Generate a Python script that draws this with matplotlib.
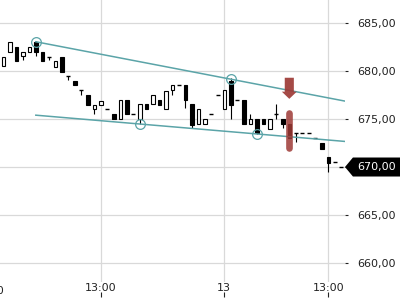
import matplotlib
matplotlib.use("Agg")
import matplotlib.pyplot as plt
from matplotlib.patches import Polygon
import matplotlib.transforms as mtransforms

# ---- data ----
opens  = [680.5, 682.0, 682.5, 681.6, 682.0, 683.0, 682.0, 681.5, 680.45, 681.5,
          679.5, 679.0, 678.0, 677.5, 676.0, 676.5, 676.0, 675.5, 675.0, 677.0,
          675.5, 675.0, 676.55, 676.55, 677.0, 676.0, 678.0, 678.5, 678.5, 676.55,
          674.45, 674.45, 675.5, 677.5, 676.0, 679.0, 677.0, 677.0, 674.45, 675.0,
          675.0, 674.0, 675.5, 675.0, 674.45, 673.5, 673.5, 673.5, 673.0, 672.45,
          671.0, 670.5, 670.0]
highs  = [681.5, 683.0, 682.5, 682.0, 682.5, 683.1, 682.0, 681.5, 681.0, 681.5,
          679.5, 679.0, 678.0, 677.5, 676.5, 676.9, 676.0, 675.5, 677.0, 677.0,
          675.5, 676.55, 676.55, 677.5, 677.0, 677.95, 678.5, 678.5, 678.5, 676.55,
          676.0, 675.0, 675.5, 677.5, 678.0, 679.3, 677.0, 677.0, 675.5, 675.0,
          675.0, 675.0, 676.55, 675.0, 674.45, 673.5, 673.5, 673.5, 673.0, 672.45,
          671.0, 670.5, 670.0]
lows   = [680.5, 682.0, 681.0, 681.1, 682.0, 681.6, 681.0, 681.15, 680.45, 679.9,
          679.05, 678.5, 677.5, 676.45, 675.5, 676.5, 676.0, 675.0, 675.0, 675.5,
          675.5, 674.5, 676.0, 676.55, 676.5, 676.0, 677.5, 678.5, 676.1, 674.1,
          674.45, 674.45, 675.5, 677.5, 676.0, 675.0, 677.0, 674.45, 674.45, 673.45,
          674.45, 674.0, 675.0, 674.1, 673.0, 672.6, 673.5, 673.5, 673.0, 671.9,
          669.5, 670.5, 670.0]
closes = [681.5, 683.0, 681.0, 682.0, 682.5, 682.0, 681.0, 681.5, 681.0, 679.9,
          679.5, 678.5, 678.0, 676.45, 676.5, 676.9, 676.0, 675.0, 677.0, 675.5,
          675.5, 676.55, 676.0, 677.5, 676.5, 677.95, 678.5, 678.5, 677.0, 674.4,
          676.0, 675.0, 675.5, 677.5, 678.0, 676.5, 677.0, 674.45, 675.0, 673.5,
          674.45, 675.0, 675.5, 674.45, 673.0, 673.5, 673.5, 673.5, 673.0, 671.9,
          670.45, 670.5, 670.0]

x_tick_pos = [15, 34, 50]
x_tick_labels = ["13:00", "13", "13:00"]
x_hidden_label_pos = -2.2
x_hidden_label = "12:00"

y_ticks = [660, 665, 670, 675, 680, 685]
y_tick_labels = ["660,00", "665,00", "670,00", "675,00", "680,00", "685,00"]

upper_line_x = [5, 53]
upper_line_y = [683.05, 676.81]
lower_line_x = [5, 53]
lower_line_y = [675.4, 672.64]
circle_x = [5, 35, 21, 39]
circle_y = [683.05, 679.15, 674.5, 673.45]

signal_x = 44
arrow_top = 679.3
arrow_tip = 677.1
capsule_top = 675.6
capsule_bottom = 672.0

last_price = 670.0
last_label = "670,00"

# ---- figure ----
fig = plt.figure(figsize=(4, 3), dpi=100)
ax = fig.add_axes([0, 0.06, 345 / 400, 0.94])

xlim = (-0.51, 52.57)
ax.set_xlim(*xlim)
ax.set_ylim(658.02, 687.4)

grid_c = "#d9d9d9"
for v in y_ticks:
    ax.axhline(v, color=grid_c, lw=0.9, zorder=0)
for v in x_tick_pos:
    ax.axvline(v, color=grid_c, lw=0.9, zorder=0)

for s in ax.spines.values():
    s.set_visible(False)

# candles
idx = list(range(len(opens)))
bw = 0.55
for i in idx:
    o, h, l, c = opens[i], highs[i], lows[i], closes[i]
    lo_b, hi_b = min(o, c), max(o, c)
    if h > hi_b:
        ax.vlines(i, hi_b, h, color="black", lw=0.8, zorder=2)
    if l < lo_b:
        ax.vlines(i, l, lo_b, color="black", lw=0.8, zorder=2)
    if hi_b - lo_b < 0.05:
        ax.hlines(o, i - bw / 2 - 0.05, i + bw / 2 + 0.05, color="black", lw=1.0, zorder=3)
    else:
        up = c > o
        ax.bar(i, hi_b - lo_b, bottom=lo_b, width=bw,
               color="white" if up else "black", edgecolor="black",
               linewidth=0.8, zorder=3)

# trend lines
teal = "#5ba4a8"
ax.plot(upper_line_x, upper_line_y, color=teal, lw=1.1, zorder=4)
ax.plot(lower_line_x, lower_line_y, color=teal, lw=1.1, zorder=4)
ax.plot(circle_x, circle_y, linestyle="none", marker="o", ms=7,
        mfc="none", mec=teal, mew=0.9, zorder=5)

# red signals
red = "#9e3a36"
ax.arrow(signal_x, arrow_top, 0, arrow_tip - arrow_top, width=1.4,
         head_width=2.3, head_length=0.75, length_includes_head=True,
         color=red, alpha=0.92, lw=0, zorder=6)
ax.plot([signal_x, signal_x], [capsule_top, capsule_bottom], color=red,
        lw=4.8, solid_capstyle="round", alpha=0.85, zorder=6)

# y axis on right
ax.yaxis.tick_right()
ax.set_yticks(y_ticks)
ax.set_yticklabels(y_tick_labels)
ax.tick_params(axis="y", length=2.5, width=0.8, pad=6, labelsize=8,
               colors="#222222", direction="out")

# x axis labels
ax.set_xticks(x_tick_pos)
ax.set_xticklabels(x_tick_labels)
ax.tick_params(axis="x", length=0, pad=1, labelsize=8, colors="#222222")
trans = mtransforms.blended_transform_factory(ax.transData, ax.transAxes)
ax.text(x_hidden_label_pos, -0.013, x_hidden_label, transform=trans,
        ha="center", va="top", fontsize=8, color="#222222", clip_on=False)
ax.vlines(x_tick_pos, -0.053, -0.035, transform=trans, color="#222222",
          lw=0.8, clip_on=False)

# last price tag
transY = mtransforms.blended_transform_factory(ax.transAxes, ax.transData)
hh = 0.99
poly = Polygon([(1.0, last_price), (1.023, last_price + hh), (1.2, last_price + hh),
                (1.2, last_price - hh), (1.023, last_price - hh)],
               closed=True, transform=transY, facecolor="black", edgecolor="none",
               clip_on=False, zorder=10)
ax.add_patch(poly)
ax.text(1.035, last_price, last_label, transform=transY, ha="left", va="center",
        fontsize=8, color="white", clip_on=False, zorder=11)

fig.savefig("out.png", dpi=100)
